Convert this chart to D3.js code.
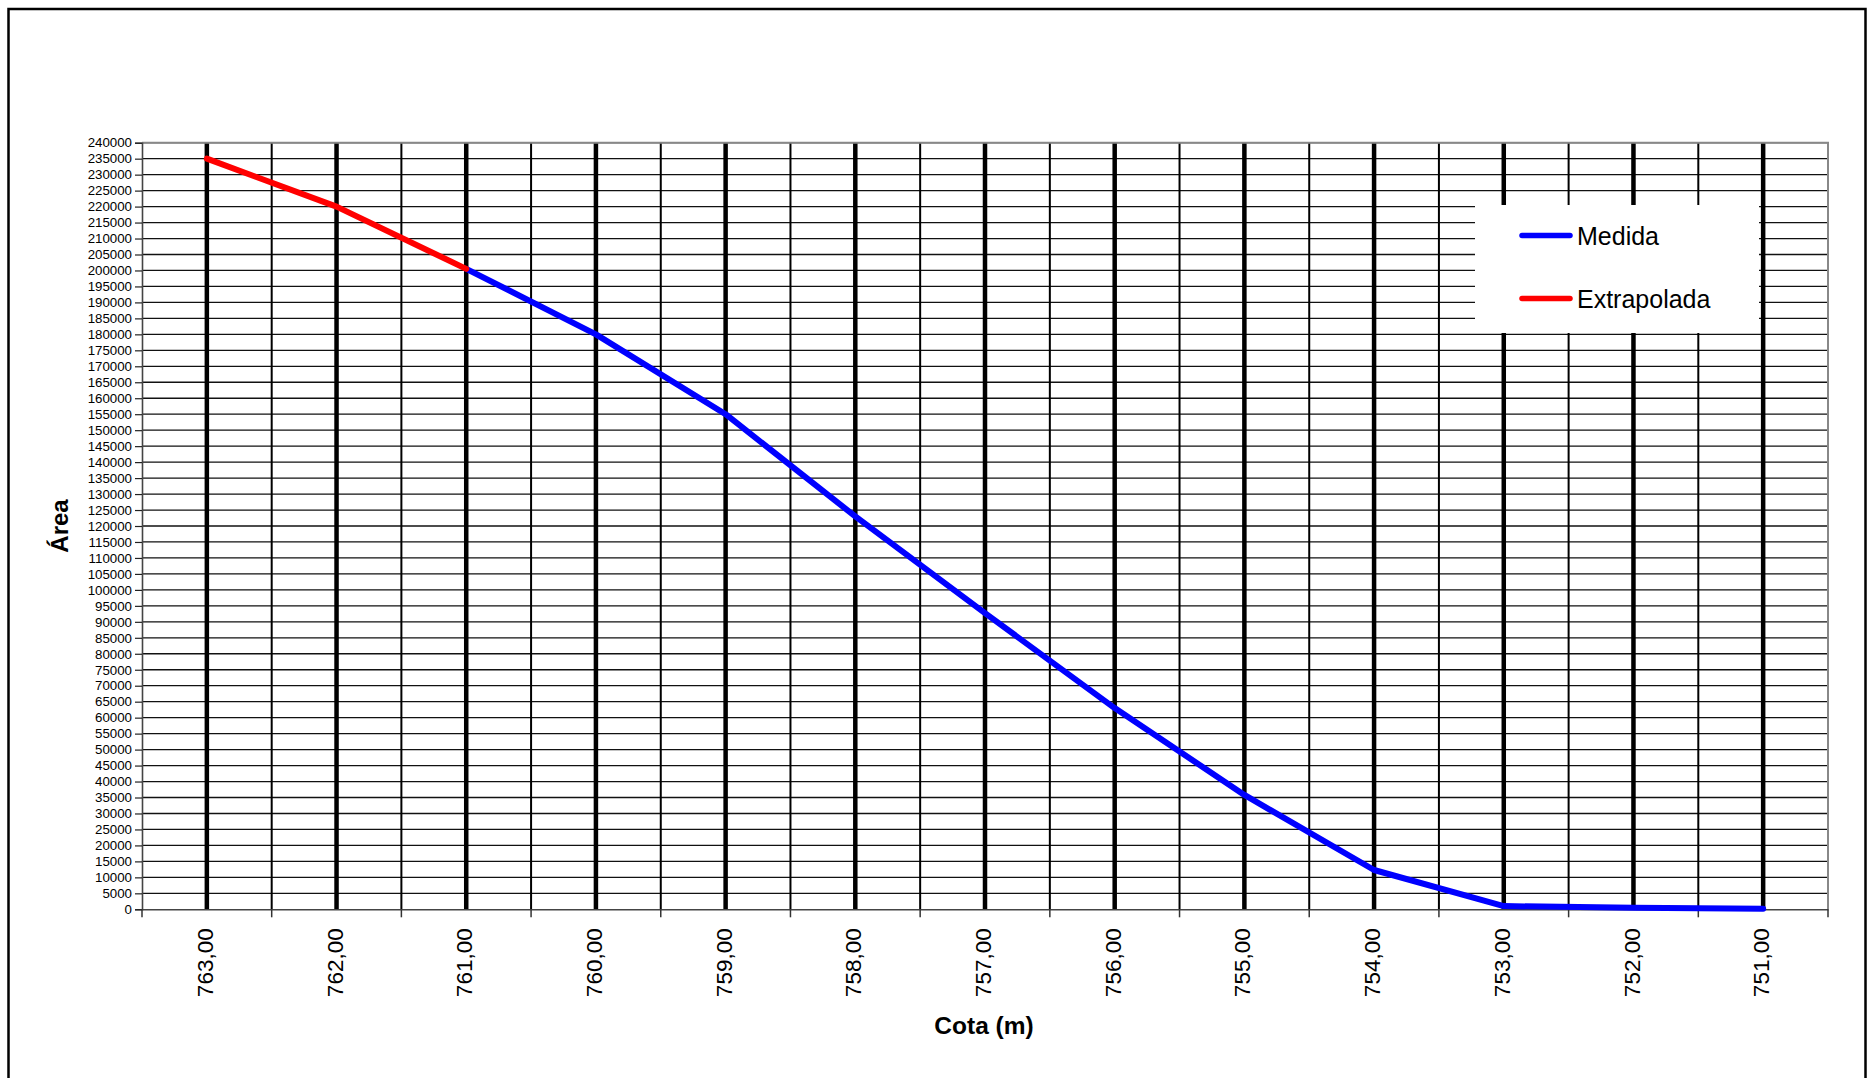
<!DOCTYPE html>
<html>
<head>
<meta charset="utf-8">
<script src="https://cdn.jsdelivr.net/npm/d3@7"></script>
<style>
  html, body { margin: 0; padding: 0; background: #fff; }
  svg { display: block; }
  text { font-family: "Liberation Sans", Arial, Helvetica, sans-serif; fill: #000; }
</style>
</head>
<body>
<svg id="chart" width="1868" height="1078"></svg>
<script>
// Elevation levels (Cota, m), left to right
const cotas = ["763,00", "762,00", "761,00", "760,00", "759,00", "758,00", "757,00",
               "756,00", "755,00", "754,00", "753,00", "752,00", "751,00"];

// Measured area per level
const medidaCotas   = ["761,00", "760,00", "759,00", "758,00", "757,00", "756,00",
                       "755,00", "754,00", "753,00", "752,00", "751,00"];
const medidaValores = [200500, 180000, 155000, 123000, 92700, 63000,
                       35800, 12300, 1000, 500, 200];

// Extrapolated area above the measured range
const extrapCotas   = ["763,00", "762,00", "761,00"];
const extrapValores = [235000, 220000, 200500];

// Area axis ticks
const yTicks = d3.range(0, 240001, 5000);

const svg = d3.select("#chart");

// Outer frame
svg.append("rect")
  .attr("x", 8.5).attr("y", 9)
  .attr("width", 1857).attr("height", 1100)
  .attr("fill", "none").attr("stroke", "#000").attr("stroke-width", 2.5);

const plot = { left: 142, right: 1828, top: 142.7, bottom: 909.3 };

const x = d3.scaleBand().domain(cotas).range([plot.left, plot.right]).padding(0);
const y = d3.scaleLinear().domain([0, 240000]).range([plot.bottom, plot.top]);
const cx = c => x(c) + x.bandwidth() / 2;

// Horizontal gridlines
svg.append("g").selectAll("line").data(yTicks.filter(v => v > 0)).join("line")
  .attr("x1", plot.left).attr("x2", plot.right)
  .attr("y1", d => y(d)).attr("y2", d => y(d))
  .attr("stroke", "#111").attr("stroke-width", 1.3);

// Thin vertical lines at category boundaries
const bounds = cotas.map(c => x(c)).slice(1);
svg.append("g").selectAll("line").data(bounds).join("line")
  .attr("x1", d => d).attr("x2", d => d)
  .attr("y1", plot.top).attr("y2", plot.bottom)
  .attr("stroke", "#000").attr("stroke-width", 2);

// Thick vertical lines at category centres
svg.append("g").selectAll("line").data(cotas).join("line")
  .attr("x1", d => cx(d)).attr("x2", d => cx(d))
  .attr("y1", plot.top).attr("y2", plot.bottom)
  .attr("stroke", "#000").attr("stroke-width", 4.5);

// Plot area border (top and right)
svg.append("path")
  .attr("d", `M${plot.left},${plot.top}H${plot.right}V${plot.bottom}`)
  .attr("fill", "none").attr("stroke", "#888").attr("stroke-width", 2);

// Y axis
const yAxis = d3.axisLeft(y).tickValues(yTicks).tickSize(7).tickPadding(3)
  .tickFormat(d3.format("d"));
const gy = svg.append("g").attr("transform", `translate(${plot.left},0)`).call(yAxis);
gy.select(".domain").attr("stroke", "#444").attr("stroke-width", 1.6);
gy.selectAll(".tick line").attr("stroke", "#222").attr("stroke-width", 1.2);
gy.selectAll(".tick text")
  .style("font-family", "'Liberation Sans', Arial, sans-serif")
  .style("font-size", "13.3px").attr("fill", "#000");

// X axis: labels at category centres, tick marks at boundaries
const xAxis = d3.axisBottom(x).tickSize(0).tickPadding(0);
const gx = svg.append("g").attr("transform", `translate(0,${plot.bottom})`).call(xAxis);
gx.select(".domain").attr("stroke", "#444").attr("stroke-width", 1.6);
gx.selectAll(".tick text")
  .attr("transform", "rotate(-90)")
  .attr("x", -19).attr("y", 0).attr("dy", "0.27em")
  .attr("text-anchor", "end")
  .style("font-family", "'Liberation Sans', Arial, sans-serif")
  .style("font-size", "22.5px").attr("fill", "#000");

const tickPos = cotas.map(c => x(c)).concat([plot.right]);
svg.append("g").selectAll("line").data(tickPos).join("line")
  .attr("x1", d => d).attr("x2", d => d)
  .attr("y1", plot.bottom).attr("y2", plot.bottom + 8)
  .attr("stroke", "#333").attr("stroke-width", 1.5);

// Series lines
const line = d3.line().x(d => cx(d[0])).y(d => y(d[1]));
svg.append("path")
  .datum(d3.zip(medidaCotas, medidaValores))
  .attr("d", line)
  .attr("fill", "none").attr("stroke", "#0000ff").attr("stroke-width", 6)
  .attr("stroke-linejoin", "round").attr("stroke-linecap", "round");
svg.append("path")
  .datum(d3.zip(extrapCotas, extrapValores))
  .attr("d", line)
  .attr("fill", "none").attr("stroke", "#ff0000").attr("stroke-width", 6)
  .attr("stroke-linejoin", "round").attr("stroke-linecap", "round");

// Axis titles
svg.append("text")
  .attr("x", 984).attr("y", 1034)
  .attr("text-anchor", "middle")
  .style("font-size", "24.5px").style("font-weight", "bold")
  .text("Cota (m)");
svg.append("text")
  .attr("transform", `translate(68,${(plot.top + plot.bottom) / 2}) rotate(-90)`)
  .attr("text-anchor", "middle")
  .style("font-size", "24px").style("font-weight", "bold")
  .text("Área");

// Legend
const legend = svg.append("g");
legend.append("rect")
  .attr("x", 1475).attr("y", 205).attr("width", 284).attr("height", 128)
  .attr("fill", "#fff");
const legendItems = [
  { name: "Medida", color: "#0000ff", y: 235.5 },
  { name: "Extrapolada", color: "#ff0000", y: 298.5 }
];
legendItems.forEach(it => {
  legend.append("line")
    .attr("x1", 1522).attr("x2", 1570).attr("y1", it.y).attr("y2", it.y)
    .attr("stroke", it.color).attr("stroke-width", 5.5).attr("stroke-linecap", "round");
  legend.append("text")
    .attr("x", 1577).attr("y", it.y).attr("dy", "0.36em")
    .style("font-size", "25px")
    .text(it.name);
});
</script>
</body>
</html>
